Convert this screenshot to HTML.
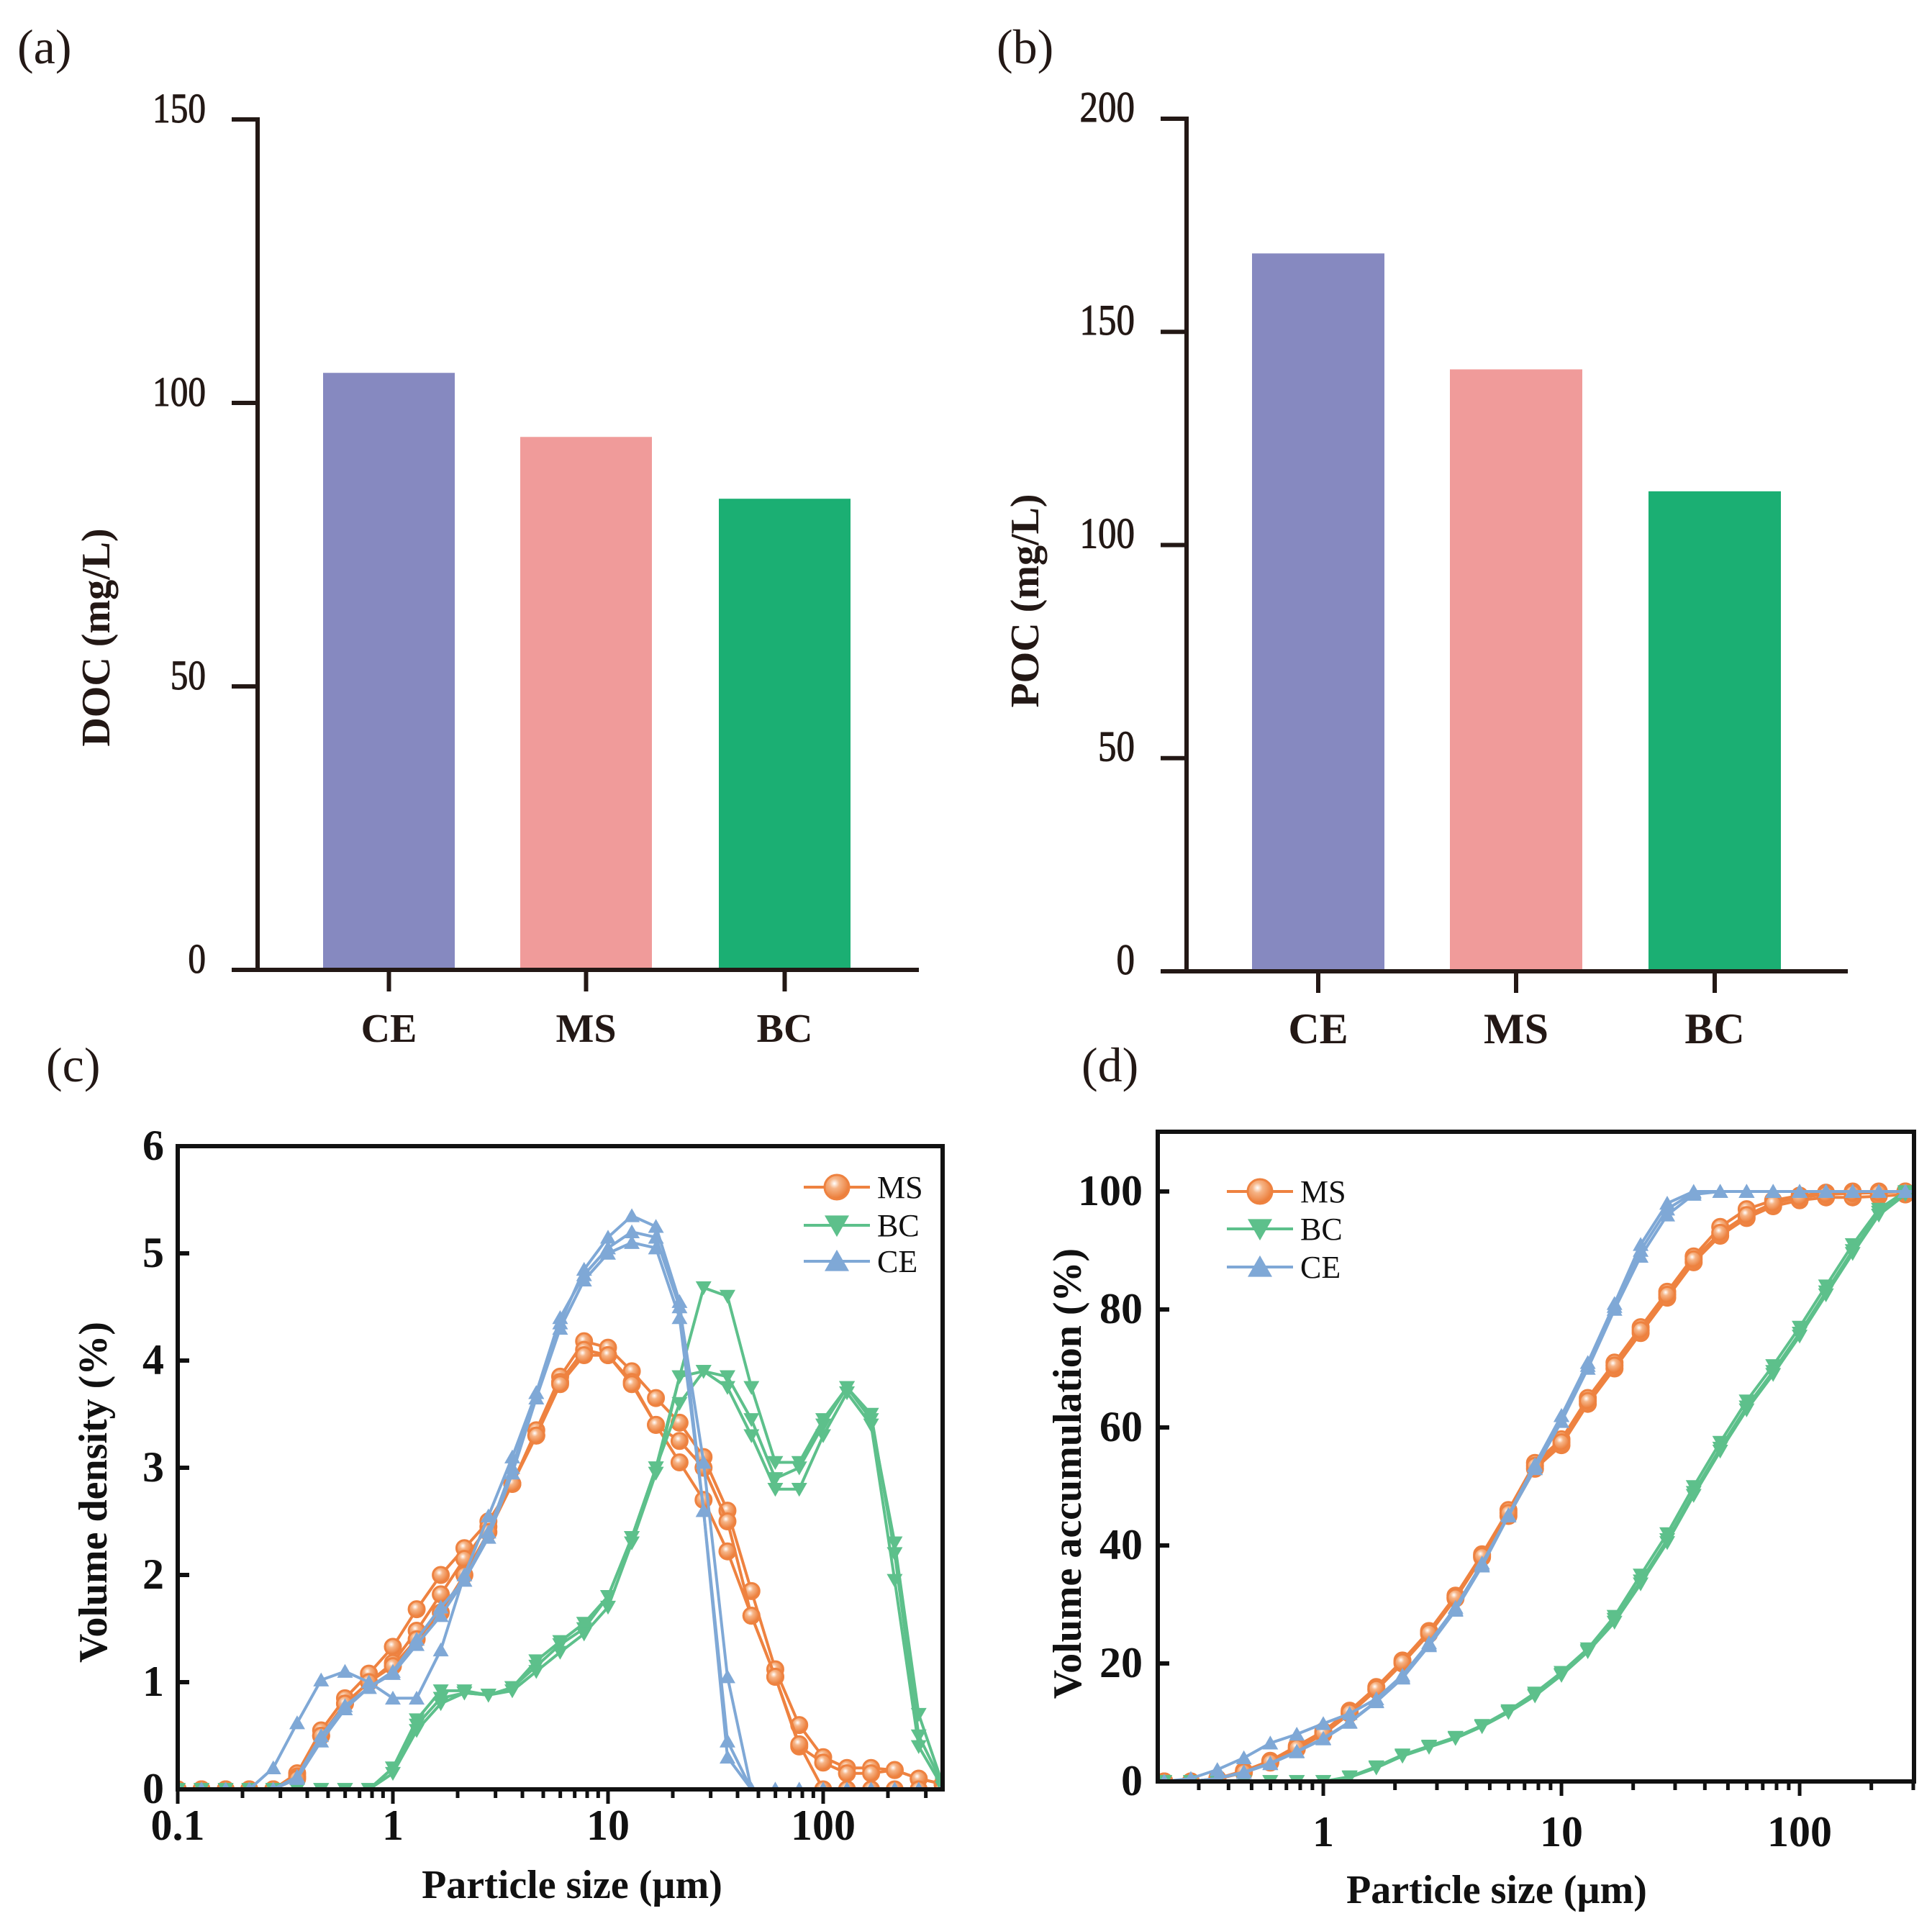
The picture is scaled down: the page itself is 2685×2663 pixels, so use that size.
<!DOCTYPE html>
<html><head><meta charset="utf-8"><style>
html,body{margin:0;padding:0;background:#fff}
svg{display:block;font-family:"Liberation Serif",serif}
</style></head><body>
<svg id="fig" width="2685" height="2663" viewBox="0 0 2685 2663" xmlns="http://www.w3.org/2000/svg">
<defs>
<clipPath id="clipC"><rect x="247" y="1593" width="1063" height="895"/></clipPath>
<clipPath id="clipD"><rect x="1609" y="1573" width="1051" height="905"/></clipPath>
<radialGradient id="ballOr" cx="0.4" cy="0.35" r="0.6"><stop offset="0" stop-color="#fff"/><stop offset="0.35" stop-color="#f6b486"/><stop offset="1" stop-color="#ec7f3c"/></radialGradient>
</defs>
<g id="layer"></g>
</svg>
<script>
// ---------- data ----------
const barCats = ["CE","MS","BC"];
const docValues = [105.3, 94.0, 83.1];
const pocValues = [168.4, 141.2, 112.6];
const barColors = ["#8689C0","#F09B9A","#1BAF73"];
const docTicks = [0,50,100,150];
const pocTicks = [0,50,100,150,200];

// particle size grid (µm): 9 points per decade from 0.1
const sizes = [0.1,0.129,0.167,0.215,0.278,0.359,0.464,0.599,0.774,1,1.29,1.67,2.15,2.78,3.59,4.64,5.99,7.74,10,12.9,16.7,21.5,27.8,35.9,46.4,59.9,77.4,100,129,167,215,278,359];
const xTickLabelsC = ["0.1","1","10","100"];
const xTickLabelsD = ["1","10","100"];
const yTicksC = [0,1,2,3,4,5,6];
const yTicksD = [0,20,40,60,80,100];

// (c) volume density (%)
const msDens1 = [0,0,0,0,0,0.15,0.55,0.85,1.08,1.33,1.68,2.0,2.25,2.5,2.85,3.35,3.85,4.18,4.12,3.9,3.65,3.42,3.1,2.6,1.85,1.12,0.6,0.3,0.2,0.2,0.18,0.1,0.05];
const msDens2 = [0,0,0,0,0,0.12,0.5,0.8,1.0,1.18,1.48,1.82,2.15,2.45,2.85,3.3,3.8,4.1,4.05,3.8,3.4,3.25,3.0,2.5,1.62,1.05,0.4,0.25,0.15,0.15,0.18,0.1,0.05];
const msDens3 = [0,0,0,0,0,0.1,0.5,0.8,1.0,1.15,1.4,1.65,2.0,2.4,2.85,3.3,3.78,4.05,4.05,3.78,3.4,3.05,2.7,2.22,1.62,1.05,0.42,0,0,0,0,0,0];
const bcDens1 = [0,0,0,0,0,0,0,0,0,0.2,0.65,0.92,0.92,0.88,0.95,1.15,1.35,1.5,1.8,2.35,3.0,3.85,4.68,4.6,3.75,3.05,3.05,3.45,3.75,3.45,2.3,0.7,0.05];
const bcDens2 = [0,0,0,0,0,0,0,0,0,0.2,0.6,0.85,0.9,0.88,0.95,1.2,1.38,1.55,1.8,2.35,3.0,3.6,3.9,3.85,3.45,2.9,3.0,3.4,3.75,3.5,2.2,0.5,0.05];
const bcDens3 = [0,0,0,0,0,0,0,0,0,0.15,0.55,0.8,0.9,0.88,0.92,1.1,1.28,1.45,1.7,2.3,2.95,3.85,3.9,3.75,3.3,2.8,2.8,3.3,3.7,3.4,1.95,0.4,0.02];
const ceDens1 = [0,0,0,0,0.2,0.62,1.02,1.1,1.0,0.85,0.85,1.3,2.0,2.55,3.1,3.7,4.35,4.85,5.15,5.35,5.25,4.55,2.6,0.45,0,0,0,0,0,0,0,0,0];
const ceDens2 = [0,0,0,0,0,0.1,0.45,0.75,0.95,1.1,1.4,1.7,1.95,2.4,3.0,3.7,4.4,4.8,5.05,5.2,5.15,4.5,3.05,1.05,0,0,0,0,0,0,0,0,0];
const ceDens3 = [0,0,0,0,0,0.12,0.5,0.78,0.95,1.08,1.35,1.62,1.95,2.35,2.95,3.65,4.3,4.75,5.0,5.1,5.05,4.4,2.6,0.3,0,0,0,0,0,0,0,0,0];

// (d) volume accumulation (%)
const msAcc1 = [0,0,0,0,0,0.5,1.8,3.5,6,8.5,12,16,20.5,25.5,31.5,38.5,46,54,58,65,71,77,83,89,94,97,98.5,99.3,99.8,100,100,100,100];
const msAcc2 = [0,0,0,0,0,0.4,1.5,3.2,5.5,8,11.5,15.5,20,25,31,38,45,53,57,64,70,76,82,88,92.5,95.5,97.5,98.5,99,99,99.2,99.5,99.6];
const msAcc3 = [0,0,0,0,0,0.4,1.6,3.3,5.7,8.2,11.7,15.7,20.2,25.2,31.2,38.2,45.5,53.5,57.5,64.5,70.5,76.5,82.5,88.5,93,96,98,99,99.5,99.7,99.8,100,100];
const bcAcc1 = [0,0,0,0,0,0,0,0,0,0,0.8,2.5,4.5,6,7.5,9.5,12,15,18.5,22.5,28,35,42,50,57.5,64.5,70.5,77,84,91,97,100,100];
const bcAcc2 = [0,0,0,0,0,0,0,0,0,0,0.7,2.3,4.3,5.8,7.3,9.3,11.7,14.5,18,22,27,33.5,40.5,48.5,56,63,69,75.5,82.5,89.5,96,99.5,100];
const bcAcc3 = [0,0,0,0,0,0,0,0,0,0,0.7,2.4,4.4,5.9,7.4,9.4,11.8,14.7,18.2,22.2,27.5,34,41,49,56.5,63.5,69.5,76,83,90,96.5,99.8,100];
const ceAcc1 = [0,0,0,0,0.5,2,4,6.5,8,9.8,11.5,14,18,23.5,29.5,37,45,53,61,70,80,89,96,99.5,100,100,100,100,100,100,100,100,100];
const ceAcc2 = [0,0,0,0,0,0.5,1.5,3,5,7.2,10,13.5,17.5,23,29,36.5,45,53.5,62,71,81,91,98,100,100,100,100,100,100,100,100,100,100];
const ceAcc3 = [0,0,0,0,0,0.5,1.6,3.1,5.1,7.3,10.1,13.6,17.7,23.2,29.2,36.7,45.2,53.7,62,70.5,80.5,90,97,99.8,100,100,100,100,100,100,100,100,100];

const seriesColors = {MS:"#EE8240", BC:"#5DC08B", CE:"#7FA8D6"};

// ---------- helpers ----------
const NS = "http://www.w3.org/2000/svg";
const layer = document.getElementById("layer");
function mk(tag, attrs, parent){
  const e = document.createElementNS(NS, tag);
  for (const k in attrs) e.setAttribute(k, attrs[k]);
  (parent||layer).appendChild(e);
  return e;
}
function txt(str, attrs, parent){ const t = mk("text", attrs, parent); t.textContent = str; return t; }

// ---------- bar charts ----------
function barChart(cfg){
  const g = mk("g", {});
  
  
  const y = v => cfg.y0 - (v - 0) / cfg.vmax * (cfg.y0 - cfg.ytop);
  cfg.values.forEach((v, i) => {
    const r = mk("rect", {x: cfg.barX[i], y: y(v), width: cfg.barW, height: cfg.y0 - y(v), fill: barColors[i]}, g);
    
    
    const cx = cfg.barX[i] + cfg.barW/2;
    mk("line", {x1: cx, x2: cx, y1: cfg.y0, y2: cfg.y0 + 30, stroke: "#231815", "stroke-width": 6}, g);
    const t = txt(barCats[i], {x: cx, y: cfg.catY, "text-anchor": "middle", "font-size": cfg.catFs, "font-weight": "bold", fill: "#231815"}, g);
    
    
  });
  const ya = mk("line", {x1: cfg.ax, x2: cfg.ax, y1: y(cfg.vmax) - 3, y2: cfg.y0 + 3, stroke: "#231815", "stroke-width": 6}, g);
  
  
  const xa = mk("line", {x1: cfg.ax - 36, x2: cfg.xEnd, y1: cfg.y0, y2: cfg.y0, stroke: "#231815", "stroke-width": 6}, g);
  
  
  cfg.ticks.forEach(v => {
    mk("line", {x1: cfg.ax - 36, x2: cfg.ax, y1: y(v), y2: y(v), stroke: "#231815", "stroke-width": 6}, g);
    const t = txt(String(v), {x: cfg.ax - 72, y: y(v) + 4, "text-anchor": "end", "font-size": cfg.tickFs, fill: "#231815", stroke:"#231815", "stroke-width":1, transform: `translate(${cfg.ax-72},0) scale(0.85,1) translate(${-(cfg.ax-72)},0)`}, g);
    
    
  });
  const ty = txt(cfg.title, {x: 0, y: 0, "text-anchor": "middle", "font-size": cfg.titleFs, "font-weight": "bold", fill: "#231815", transform: `translate(${cfg.titleX},${cfg.titleY}) rotate(-90)`}, g);
  
  
}
barChart({name:"doc-bar-chart", values: docValues, ticks: docTicks, vmax:150, y0:1348, ytop:166, ax:358, xEnd:1277,
  barX:[449,723,999], barW:183, catY:1448, catFs:56, tickFs:58, title:"DOC (mg/L)", titleFs:56, titleX:152, titleY:886});
barChart({name:"poc-bar-chart", values: pocValues, ticks: pocTicks, vmax:200, y0:1350, ytop:165, ax:1649, xEnd:2568,
  barX:[1740,2015,2291], barW:184, catY:1450, catFs:60, tickFs:60, title:"POC (mg/L)", titleFs:56, titleX:1443, titleY:835});

// panel labels
[["(a)",24,88,"panel-label-a"],["(b)",1385,88,"panel-label-b"],["(c)",64,1503,"panel-label-c"],["(d)",1503,1503,"panel-label-d"]].forEach(p => {
  const t = txt(p[0], {x:p[1], y:p[2], "font-size":68, fill:"#231815"});
  
  
});

// ---------- line charts ----------
function marker(g, type, x, y, color, s){
  let e;
  if (type === "circle"){
    e = mk("circle", {cx:x, cy:y, r:s, fill:"url(#ballOr)", stroke:color, "stroke-width":3}, g);
  } else if (type === "down"){
    e = mk("polygon", {points:`${x-s},${y-s*0.8} ${x+s},${y-s*0.8} ${x},${y+s*0.95}`, fill:color}, g);
  } else {
    e = mk("polygon", {points:`${x-s},${y+s*0.8} ${x+s},${y+s*0.8} ${x},${y-s*0.95}`, fill:color}, g);
  }
  return e;
}
function lineChart(cfg){
  const g = mk("g", {});
  
  
  const sx = v => cfg.L + (Math.log10(v) - cfg.lmin) * cfg.dec;
  const sy = v => cfg.B - v / cfg.ymax * (cfg.B - cfg.yTopVal);
  const pg = mk("g", {"clip-path": `url(#${cfg.clip})`}, g);
  cfg.series.forEach(s => {
    s.reps.forEach((arr, ri) => {
      const sg = mk("g", {}, pg);
      
      
      let d = "";
      arr.forEach((v, i) => { d += (i ? "L" : "M") + sx(sizes[i]).toFixed(1) + "," + sy(v).toFixed(1); });
      mk("path", {d, fill:"none", stroke: seriesColors[s.key], "stroke-width":4, "stroke-linejoin":"round"}, sg);
      arr.forEach((v, i) => {
        const m = marker(sg, s.marker, sx(sizes[i]), sy(v), seriesColors[s.key], cfg.ms);
        
        
      });
    });
  });
  const fr = mk("rect", {x:cfg.L, y:cfg.T, width:cfg.R-cfg.L, height:cfg.B-cfg.T, fill:"none", stroke:"#111", "stroke-width":6}, g);
  
  
  cfg.yTicks.forEach(v => {
    mk("line", {x1:cfg.L, x2:cfg.L+16, y1:sy(v), y2:sy(v), stroke:"#111", "stroke-width":6}, g);
    const t = txt(String(v), {x:cfg.ylabX, y:sy(v)+19, "text-anchor":"end", "font-size":60, "font-weight":"bold", fill:"#111"}, g);
    
    
  });
  for (let e = -2; e <= 3; e++){
    for (let m = 1; m <= 9; m++){
      const v = m * Math.pow(10, e);
      const x = sx(v);
      if (x < cfg.L - 1 || x > cfg.R + 1) continue;
      mk("line", {x1:x, x2:x, y1:cfg.B, y2:cfg.B + (m === 1 ? 20 : 12), stroke:"#111", "stroke-width":5}, g);
    }
  }
  cfg.xLabels.forEach(lab => {
    const t = txt(lab, {x:sx(parseFloat(lab)), y:cfg.xlabY, "text-anchor":"middle", "font-size":60, "font-weight":"bold", fill:"#111"}, g);
    
    
  });
  const xt = txt("Particle size (µm)", {x:cfg.xtX, y:cfg.xtY, "text-anchor":"middle", "font-size":56, "font-weight":"bold", fill:"#111"}, g);
  
  
  const yt = txt(cfg.yTitle, {x:0, y:0, "text-anchor":"middle", "font-size":56, "font-weight":"bold", fill:"#111", transform:`translate(${cfg.ytX},${cfg.ytY}) rotate(-90)`}, g);
  
  
  const lg = mk("g", {}, g);
  
  
  cfg.series.forEach((s, i) => {
    const y = cfg.legY[i];
    const e = mk("g", {}, lg);
    
    
    mk("line", {x1:cfg.legX, x2:cfg.legX+92, y1:y, y2:y, stroke:seriesColors[s.key], "stroke-width":4}, e);
    marker(e, s.marker, cfg.legX+46, y, seriesColors[s.key], 17);
    txt(s.key, {x:cfg.legX+102, y:y+15, "font-size":44, fill:"#111"}, e);
  });
}
lineChart({name:"volume-density-chart", clip:"clipC", L:247, R:1310, T:1593, B:2487, yTopVal:1593, ymax:6, lmin:-1, dec:299, ms:11,
  yTicks:yTicksC, xLabels:xTickLabelsC, ylabX:228, xlabY:2557, xtX:795, xtY:2638, yTitle:"Volume density (%)", ytX:148, ytY:2074,
  legX:1117, legY:[1650,1703,1753],
  series:[{key:"MS", marker:"circle", reps:[msDens1,msDens2,msDens3]},{key:"BC", marker:"down", reps:[bcDens1,bcDens2,bcDens3]},{key:"CE", marker:"up", reps:[ceDens1,ceDens2,ceDens3]}]});
lineChart({name:"volume-accumulation-chart", clip:"clipD", L:1609, R:2660, T:1573, B:2476, yTopVal:1656, ymax:100, lmin:-0.695, dec:331, ms:11,
  yTicks:yTicksD, xLabels:xTickLabelsD, ylabX:1588, xlabY:2566, xtX:2080, xtY:2645, yTitle:"Volume accumulation (%)", ytX:1502, ytY:2048,
  legX:1705, legY:[1656,1708,1761],
  series:[{key:"MS", marker:"circle", reps:[msAcc1,msAcc2,msAcc3]},{key:"BC", marker:"down", reps:[bcAcc1,bcAcc2,bcAcc3]},{key:"CE", marker:"up", reps:[ceAcc1,ceAcc2,ceAcc3]}]});
</script>
</body></html>
